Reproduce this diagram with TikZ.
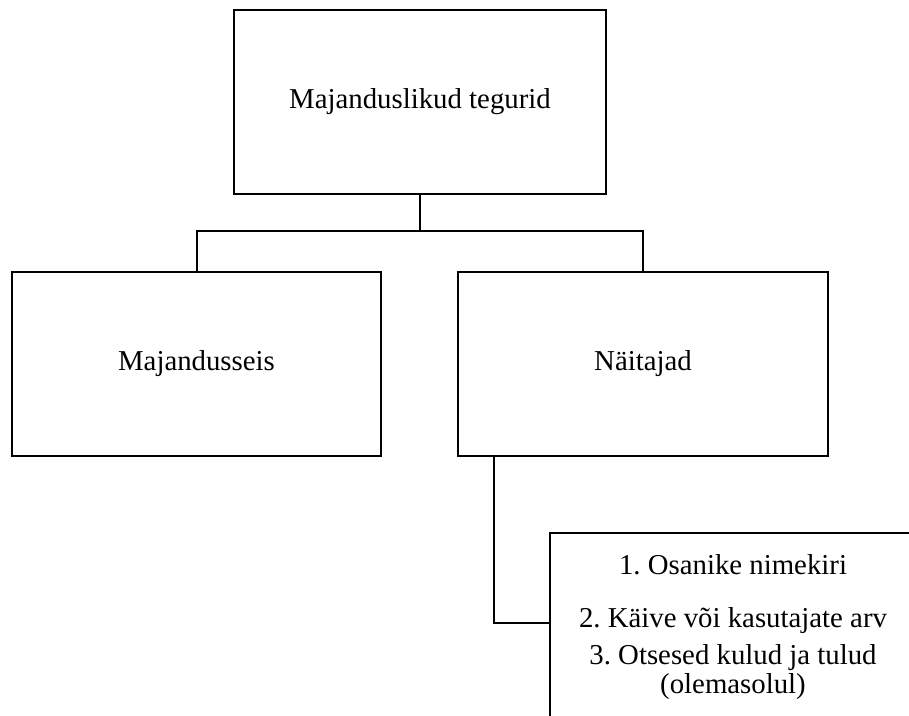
\documentclass[tikz,border=0pt]{standalone}
\usepackage{fontspec}
\setmainfont{Liberation Serif}
\frenchspacing
\begin{document}
\begin{tikzpicture}[x=1pt,y=-1pt,
  box/.style={draw=black,line width=2pt,fill=white,inner sep=0pt,align=center,
    font=\fontsize{28.8}{34}\selectfont},
  conn/.style={draw=black,line width=2pt}]
\useasboundingbox (0,0) rectangle (909,715);
\node[box,minimum width=372pt,minimum height=184pt] (top) at (420,102) {Majanduslikud tegurid};
\node[box,minimum width=369pt,minimum height=184pt] (left) at (196.5,364) {Majandusseis};
\node[box,minimum width=370pt,minimum height=184pt] (right) at (643,364) {Näitajad};
\node[box,minimum width=366pt,minimum height=188pt,
  font=\fontsize{28.8}{29}\selectfont] (list) at (733,627)
  {1. Osanike nimekiri\\[24pt]2. Käive või kasutajate arv\\[8pt]3. Otsesed kulud ja tulud\\(olemasolul)};
\coordinate (bus) at (420,231);
\draw[conn] (top.south) -- (bus);
\draw[conn] (left.north) |- (bus) -| (right.north);
\draw[conn] ([xshift=37pt]right.south west) |- ([yshift=4pt]list.west);
\end{tikzpicture}
\end{document}
